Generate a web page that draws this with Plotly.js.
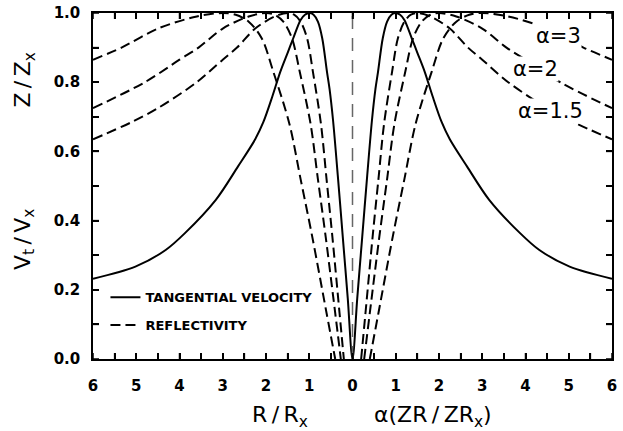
<!DOCTYPE html>
<html>
<head>
<meta charset="utf-8">
<script src="https://cdn.plot.ly/plotly-3.0.1.min.js"></script>
<style>html,body{margin:0;padding:0;background:#fff;}#chart{width:623px;height:431px;}</style>
</head>
<body>
<div id="chart"></div>
<script>
// Tangential velocity V_t/V_x versus R/R_x (mirrored on both sides)
const velInnerR = [0, 0.11, 0.225, 0.34, 0.45, 0.53, 0.59, 0.70, 0.80, 0.90, 1.00];
const velInnerV = [0, 0.176, 0.353, 0.53, 0.69, 0.78, 0.83, 0.927, 0.975, 0.995, 1.00];
const velOuterR = [1.10, 1.20, 1.37, 1.50, 1.67, 1.85, 2.06, 2.25, 2.65, 3.16, 3.88, 4.32, 5.02, 6.00];
const velOuterV = [0.995, 0.98, 0.927, 0.885, 0.83, 0.76, 0.685, 0.635, 0.556, 0.46, 0.363, 0.315, 0.267, 0.232];

// Reflectivity Z/Z_x versus alpha(ZR/ZR_x)
const refl15R = [0.20, 0.30, 0.465, 0.60, 0.73, 0.915, 1.05, 1.20, 1.35, 1.50, 1.80, 2.25, 2.67, 3.00, 3.60, 4.50, 5.10, 6.00];
const refl15V = [0, 0.133, 0.353, 0.52, 0.68, 0.83, 0.927, 0.975, 0.995, 1.00, 0.99, 0.955, 0.90, 0.865, 0.80, 0.725, 0.685, 0.635];
const refl2R  = [0.27, 0.40, 0.62, 0.80, 0.97, 1.22, 1.40, 1.60, 1.80, 2.00, 2.40, 3.00, 3.56, 4.00, 4.80, 6.00];
const refl2V  = [0, 0.133, 0.353, 0.52, 0.68, 0.83, 0.927, 0.975, 0.995, 1.00, 0.99, 0.955, 0.90, 0.865, 0.80, 0.725];
const refl3R  = [0.40, 0.60, 0.93, 1.20, 1.46, 1.83, 2.10, 2.40, 2.70, 3.00, 3.60, 4.50, 5.34, 6.00];
const refl3V  = [0, 0.133, 0.353, 0.52, 0.68, 0.83, 0.927, 0.975, 0.995, 1.00, 0.99, 0.955, 0.90, 0.865];

// tick positions (every 0.5 on x, every 0.1 on y) and their labels
const xTickVals = [-6, -5.5, -5, -4.5, -4, -3.5, -3, -2.5, -2, -1.5, -1, -0.5, 0, 0.5, 1, 1.5, 2, 2.5, 3, 3.5, 4, 4.5, 5, 5.5, 6];
const xTickText = ["6", "", "5", "", "4", "", "3", "", "2", "", "1", "", "0", "", "1", "", "2", "", "3", "", "4", "", "5", "", "6"];
const yTickVals = [0, 0.1, 0.2, 0.3, 0.4, 0.5, 0.6, 0.7, 0.8, 0.9, 1.0];
const yTickText = ["0.0", "", "0.2", "", "0.4", "", "0.6", "", "0.8", "", "1.0"];

const curveLabels = ["α=3", "α=2", "α=1.5"];
const legendNames = ["TANGENTIAL VELOCITY", "REFLECTIVITY"];

const bold = s => (s ? "<b>" + s + "</b>" : "");

// mirror a one-sided curve onto the negative side
function mirrored(r, v, gap) {
  const xs = [], ys = [];
  for (let i = r.length - 1; i >= 0; i--) { xs.push(-r[i]); ys.push(v[i]); }
  if (gap) { xs.push(null); ys.push(null); }
  for (let i = 0; i < r.length; i++) { xs.push(r[i]); ys.push(v[i]); }
  return {x: xs, y: ys};
}

const velR = velInnerR.concat(velOuterR);
const velV = velInnerV.concat(velOuterV);
const vel = mirrored(velR.slice(1), velV.slice(1), false);
const nHalf = velR.length - 1;
const velX = vel.x.slice(0, nHalf).concat([velR[0]], vel.x.slice(nHalf));
const velY = vel.y.slice(0, nHalf).concat([velV[0]], vel.y.slice(nHalf));

const dashLine = {color: "black", width: 2, dash: "10px,5px", shape: "spline", smoothing: 0.9};
const r15 = mirrored(refl15R, refl15V, true);
const r2 = mirrored(refl2R, refl2V, true);
const r3 = mirrored(refl3R, refl3V, true);

const traces = [
  {x: velX, y: velY, mode: "lines", name: bold(legendNames[0]), legendgroup: "a",
   line: {color: "black", width: 2, shape: "spline", smoothing: 0.9}},
  {x: r15.x, y: r15.y, mode: "lines", name: bold(legendNames[1]), legendgroup: "b",
   line: dashLine, connectgaps: false},
  {x: r2.x, y: r2.y, mode: "lines", name: "α=2", showlegend: false,
   line: dashLine, connectgaps: false},
  {x: r3.x, y: r3.y, mode: "lines", name: "α=3", showlegend: false,
   line: dashLine, connectgaps: false}
];

const tickFont = {family: "DejaVu Sans", size: 15, color: "black"};
const titleFont = {family: "DejaVu Sans", size: 22, color: "black"};
const labelFont = {family: "DejaVu Sans", size: 21, color: "black"};
const TS = "\u2009"; // thin space around the slash, as in the original lettering

// inward tick marks on all four sides, placed at the tick values (pixel-length shapes)
const TICK_LEN = 6;
const tickLine = {color: "black", width: 1.5};
const tickShapes = [];
xTickVals.forEach(function (v) {
  tickShapes.push({type: "line", xref: "x", yref: "paper", ysizemode: "pixel", yanchor: 0,
    x0: v, x1: v, y0: 0, y1: TICK_LEN, line: tickLine});
  tickShapes.push({type: "line", xref: "x", yref: "paper", ysizemode: "pixel", yanchor: 1,
    x0: v, x1: v, y0: 0, y1: -TICK_LEN, line: tickLine});
});
yTickVals.forEach(function (v) {
  tickShapes.push({type: "line", xref: "paper", yref: "y", xsizemode: "pixel", xanchor: 0,
    y0: v, y1: v, x0: 0, x1: TICK_LEN, line: tickLine});
  tickShapes.push({type: "line", xref: "paper", yref: "y", xsizemode: "pixel", xanchor: 1,
    y0: v, y1: v, x0: 0, x1: -TICK_LEN, line: tickLine});
});

const layout = {
  width: 623, height: 431,
  margin: {l: 93, r: 11, t: 13, b: 72},
  showlegend: true,
  legend: {x: 0.024, y: 0.222, xanchor: "left", yanchor: "top",
    bgcolor: "rgba(0,0,0,0)", font: {family: "DejaVu Sans", size: 13, color: "black"},
    traceorder: "grouped", tracegroupgap: 8},
  xaxis: {range: [-6, 6], tickmode: "array", tickvals: xTickVals, ticktext: xTickText.map(bold),
    ticks: "inside", ticklen: 6, tickwidth: 1.5, tickcolor: "black",
    showline: true, linewidth: 1.5, linecolor: "black", mirror: "ticks",
    showgrid: false, zeroline: false, tickfont: tickFont, ticklabelstandoff: 12},
  yaxis: {range: [0, 1], tickmode: "array", tickvals: yTickVals, ticktext: yTickText.map(bold),
    ticks: "inside", ticklen: 6, tickwidth: 1.5, tickcolor: "black",
    showline: true, linewidth: 1.5, linecolor: "black", mirror: "ticks",
    showgrid: false, zeroline: false, tickfont: tickFont, ticklabelstandoff: 8},
  shapes: [
    {type: "line", xref: "x", yref: "y", x0: 0, x1: 0, y0: 0, y1: 1,
     line: {color: "#666", width: 1.5, dash: "13px,9px"}}
  ].concat(tickShapes),
  annotations: [
    {text: curveLabels[0], xref: "x", yref: "y", x: 4.76, y: 0.934, showarrow: false, font: labelFont, bgcolor: "white", borderpad: 0, xanchor: "center", yanchor: "middle"},
    {text: curveLabels[1], xref: "x", yref: "y", x: 4.22, y: 0.838, showarrow: false, font: labelFont, bgcolor: "white", borderpad: 0, xanchor: "center", yanchor: "middle"},
    {text: curveLabels[2], xref: "x", yref: "y", x: 4.57, y: 0.717, showarrow: false, font: labelFont, bgcolor: "white", borderpad: 0, xanchor: "center", yanchor: "middle"},
    {text: "R" + TS + "/" + TS + "R<sub>x</sub>", xref: "paper", yref: "paper", x: 0.36, y: -0.165, showarrow: false, font: titleFont, xanchor: "center", yanchor: "middle"},
    {text: "α(ZR" + TS + "/" + TS + "ZR<sub>x</sub>)", xref: "paper", yref: "paper", x: 0.655, y: -0.165, showarrow: false, font: titleFont, xanchor: "center", yanchor: "middle"},
    {text: "Z" + TS + "/" + TS + "Z<sub>x</sub>", xref: "paper", yref: "paper", x: -0.132, y: 0.806, showarrow: false, textangle: -90, font: titleFont, xanchor: "center", yanchor: "middle"},
    {text: "V<sub>t</sub>" + TS + "/" + TS + "V<sub>x</sub>", xref: "paper", yref: "paper", x: -0.132, y: 0.345, showarrow: false, textangle: -90, font: titleFont, xanchor: "center", yanchor: "middle"}
  ]
};

Plotly.newPlot("chart", traces, layout, {displayModeBar: false});
</script>
</body>
</html>
